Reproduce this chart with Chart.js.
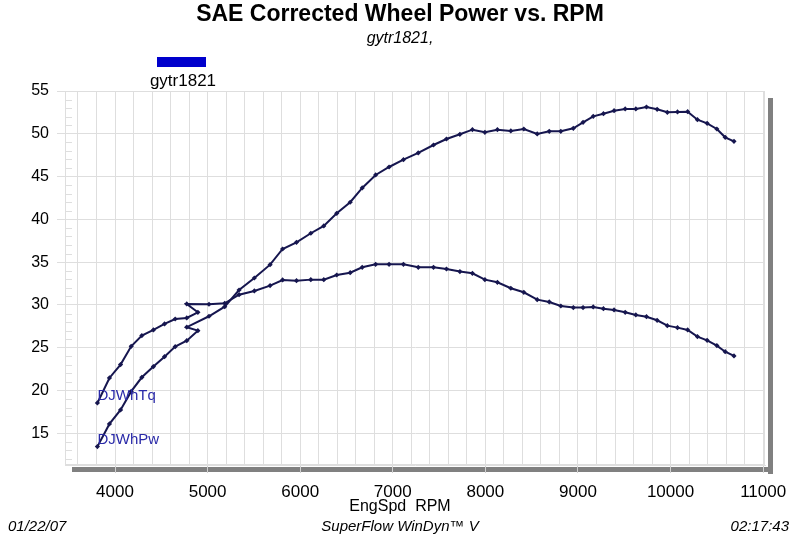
<!DOCTYPE html>
<html><head><meta charset="utf-8">
<script src="https://cdn.jsdelivr.net/npm/chart.js@4.4.1/dist/chart.umd.min.js"></script>
<style>
html,body{margin:0;padding:0;background:#fff;}
#wrap{position:relative;width:800px;height:540px;overflow:hidden;font-family:'Liberation Sans',Arial,sans-serif;color:#000;}
canvas{position:absolute;left:0;top:0;}
.t{position:absolute;white-space:nowrap;line-height:1;}
</style></head><body>
<div id="wrap">
<canvas id="c" width="800" height="540"></canvas>
<div class="t" style="left:0;width:800px;text-align:center;top:2px;font-size:23px;font-weight:bold;">SAE Corrected Wheel Power vs. RPM</div>
<div class="t" style="left:0;width:800px;text-align:center;top:30px;font-size:16px;font-style:italic;">gytr1821,</div>
<div style="position:absolute;left:157px;top:57px;width:49px;height:10px;background:#0000cc;"></div>
<div class="t" style="left:133px;width:100px;text-align:center;top:72px;font-size:17px;">gytr1821</div>
<div class="t" style="left:0;width:800px;text-align:center;top:498px;font-size:16px;">EngSpd&nbsp;&nbsp;RPM</div>
<div class="t" style="left:8px;top:518px;font-size:15px;font-style:italic;">01/22/07</div>
<div class="t" style="left:0;width:800px;text-align:center;top:518px;font-size:15px;font-style:italic;">SuperFlow WinDyn™ V</div>
<div class="t" style="right:11px;top:518px;font-size:15px;font-style:italic;">02:17:43</div>
</div>
<script>
const rpm = [3810,3940,4060,4175,4290,4415,4535,4650,4775,4895,4775,5015,5185,5340,5505,5675,5810,5960,6115,6255,6395,6540,6670,6815,6960,7115,7275,7440,7580,7725,7860,7995,8130,8275,8415,8560,8690,8815,8950,9055,9165,9275,9390,9510,9625,9740,9855,9965,10075,10185,10290,10395,10500,10590,10685];
const torque = [18.55,21.47,23.03,25.17,26.42,27.08,27.78,28.36,28.48,29.14,30.12,30.08,30.2,31.2,31.64,32.26,32.92,32.84,32.96,32.96,33.5,33.77,34.4,34.75,34.75,34.75,34.4,34.4,34.2,33.9,33.7,32.96,32.65,31.95,31.48,30.62,30.35,29.88,29.69,29.69,29.77,29.57,29.42,29.14,28.83,28.63,28.21,27.58,27.35,27.08,26.3,25.87,25.25,24.54,24.04];
const power = [13.45,16.1,17.73,19.9,21.55,22.8,23.96,25.13,25.83,27.0,27.4,28.68,29.8,31.75,33.15,34.71,36.54,37.32,38.38,39.23,40.71,42.0,43.67,45.19,46.12,46.98,47.76,48.69,49.39,49.94,50.48,50.17,50.48,50.33,50.56,49.98,50.29,50.29,50.64,51.34,52.04,52.35,52.7,52.9,52.9,53.13,52.86,52.51,52.55,52.58,51.65,51.22,50.56,49.59,49.12];
const seriesNames = ['DJWhTq','DJWhPw'];
const xTickLabels = [4000,5000,6000,7000,8000,9000,10000,11000];
const yTickLabels = [15,20,25,30,35,40,45,50,55];

const X_MIN = 3460, X_MAX = 11020, X_MINOR_STEP = 200, X_MINOR_START = 3600;
const Y_MIN = 11.3, Y_MAX = 55;
const FONT = "'Liberation Sans', Arial, sans-serif";
const lineColor = '#16164f';
const gridColor = '#dedede';
const labelColor = '#2a2aa8';

const frame = {
  id: 'frame',
  beforeDraw(chart) {
    const {ctx, chartArea: a} = chart;
    ctx.save();
    ctx.fillStyle = '#fff';
    ctx.fillRect(0, 0, chart.width, chart.height);
    ctx.fillStyle = '#808080';
    ctx.fillRect(a.right + 3, a.top + 7, 5, a.bottom - a.top + 2);
    ctx.fillRect(a.left + 7, a.bottom + 2, a.right + 8 - (a.left + 7), 5);
    ctx.restore();
  },
  beforeDatasetsDraw(chart) {
    const {ctx, chartArea: a, scales} = chart;
    ctx.save();
    ctx.strokeStyle = gridColor;
    ctx.lineWidth = 1;
    ctx.strokeRect(a.left + 0.5, a.top + 0.5, a.right - a.left - 1, a.bottom - a.top - 1);
    const ys = scales.y;
    ctx.beginPath();
    for (let v = Math.ceil(Y_MIN); v <= Y_MAX; v++) {
      if (v % 5 === 0) continue;
      const py = Math.round(ys.getPixelForValue(v)) + 0.5;
      ctx.moveTo(a.left, py);
      ctx.lineTo(a.left + 7, py);
    }
    ctx.stroke();
    ctx.restore();
  },
  afterDatasetsDraw(chart) {
    const {ctx} = chart;
    ctx.save();
    ctx.fillStyle = labelColor;
    ctx.font = '15px ' + FONT;
    ctx.textAlign = 'left';
    ctx.textBaseline = 'alphabetic';
    chart.data.datasets.forEach((ds, i) => {
      const p = chart.getDatasetMeta(i).data[0];
      ctx.fillText(seriesNames[i], p.x, p.y - 3);
    });
    ctx.restore();
  }
};

new Chart(document.getElementById('c'), {
  type: 'line',
  data: {
    datasets: [
      { label: seriesNames[0], data: rpm.map((r, i) => ({x: r, y: torque[i]})) },
      { label: seriesNames[1], data: rpm.map((r, i) => ({x: r, y: power[i]})) }
    ].map(d => Object.assign(d, {
      borderColor: lineColor, backgroundColor: lineColor, borderWidth: 2,
      pointStyle: 'rectRot', pointRadius: 2.6, pointBorderWidth: 0, pointHoverRadius: 2.6,
      tension: 0, fill: false
    }))
  },
  options: {
    responsive: false, animation: false, devicePixelRatio: 1,
    layout: { padding: { top: 91, right: 35, bottom: 0, left: 0 } },
    plugins: { legend: { display: false }, title: { display: false }, tooltip: { enabled: false } },
    scales: {
      x: {
        type: 'linear', min: X_MIN, max: X_MAX,
        afterBuildTicks(s) {
          const t = [];
          for (let v = X_MINOR_START; v <= X_MAX; v += X_MINOR_STEP) t.push({value: v});
          s.ticks = t;
        },
        afterFit(s) { s.height = 75; },
        ticks: { autoSkip: false, maxRotation: 0, padding: 9, color: '#000',
          font: { size: 17, family: FONT },
          callback: v => xTickLabels.includes(v) ? String(v) : '' },
        grid: { color: gridColor, lineWidth: 1, tickLength: 8,
          tickColor: c => (c.tick && xTickLabels.includes(c.tick.value)) ? '#d0d0d0' : 'rgba(0,0,0,0)' },
        border: { display: true, color: gridColor }
      },
      y: {
        type: 'linear', min: Y_MIN, max: Y_MAX,
        afterBuildTicks(s) { s.ticks = yTickLabels.map(v => ({value: v})); },
        afterFit(s) { s.width = 65; },
        ticks: { padding: 8, color: '#000', font: { size: 16, family: FONT }, callback: v => String(v) },
        grid: { color: gridColor, lineWidth: 1, tickLength: 8, tickColor: gridColor },
        border: { display: true, color: gridColor }
      }
    }
  },
  plugins: [frame]
});
</script>
</body></html>
